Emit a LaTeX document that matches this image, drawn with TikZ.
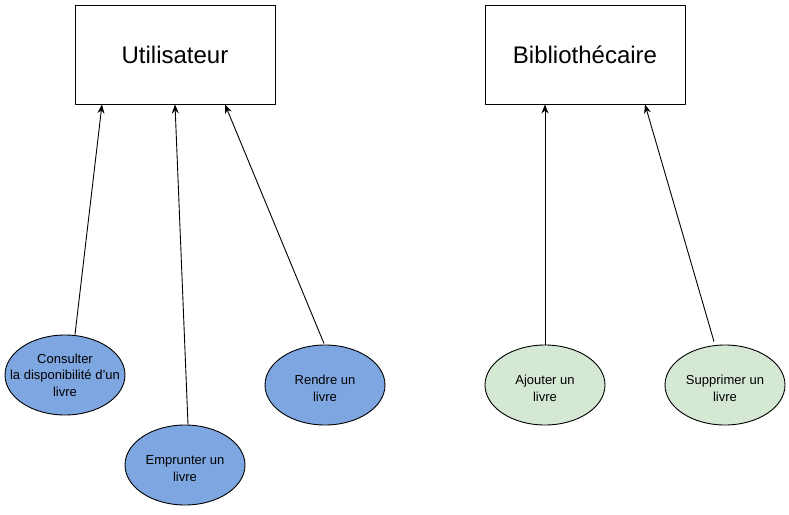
\documentclass[tikz,border=0pt]{standalone}
\usepackage{fontspec}
\setmainfont{Liberation Sans}
\usetikzlibrary{shapes.geometric,arrows.meta}
\definecolor{bleu}{HTML}{7EA6E0}
\definecolor{vert}{HTML}{D5E8D4}
\begin{document}
\begin{tikzpicture}[x=1pt,y=-1pt,line join=round,>={Stealth[length=9pt,width=7pt,inset=3pt]},line width=.9pt]
	\tikzset{acteur/.style={draw,minimum width=200pt,minimum height=99pt,inner sep=0pt,font=\fontsize{24}{28}\selectfont},
		cas/.style={draw,ellipse,minimum width=120pt,minimum height=80pt,inner sep=0pt},
		castxt/.style={align=center,inner sep=0pt,font=\fontsize{13}{16.5}\selectfont}}
	\useasboundingbox (0,0) rectangle (789,514);
	%\draw[color=gray!50,dashed,step=50] (0,0) grid (789,514);
	\node[acteur] (util) at (175,54.5) {Utilisateur};
	\node[acteur] (biblio) at (585,54.5) {Bibliothécaire};
	\foreach \n/\x/\y/\d/\c/\t in {consult/65/375/0/bleu/{Consulter\\la disponibilité d'un\\livre},
		emprunt/185/465/3.5/bleu/{Emprunter un\\livre},
		rendre/325/385/3.5/bleu/{Rendre un\\livre},
		ajout/545/385/3.5/vert/{Ajouter un\\livre},
		suppr/725/385/3.5/vert/{Supprimer un\\livre}}{
		\node[cas,fill=\c] (\n) at (\x,\y) {};
		\node[castxt] (\n-t) at ([yshift=-\d pt]\n.center) {\t};}
	\draw[->] ([xshift=10pt]consult.north) -- ([xshift=-73pt]util.south);
	\draw[->] ([xshift=3pt]emprunt.north) -- ([xshift=0pt]util.south);
	\draw[->] ([xshift=-1pt,yshift=1pt]rendre.north) -- ([xshift=50pt]util.south);
	\draw[->] (ajout.north) -- ([xshift=-40pt]biblio.south);
	\draw[->] ([xshift=-11pt,yshift=3pt]suppr.north) -- ([xshift=60pt]biblio.south);
\end{tikzpicture}
\end{document}
